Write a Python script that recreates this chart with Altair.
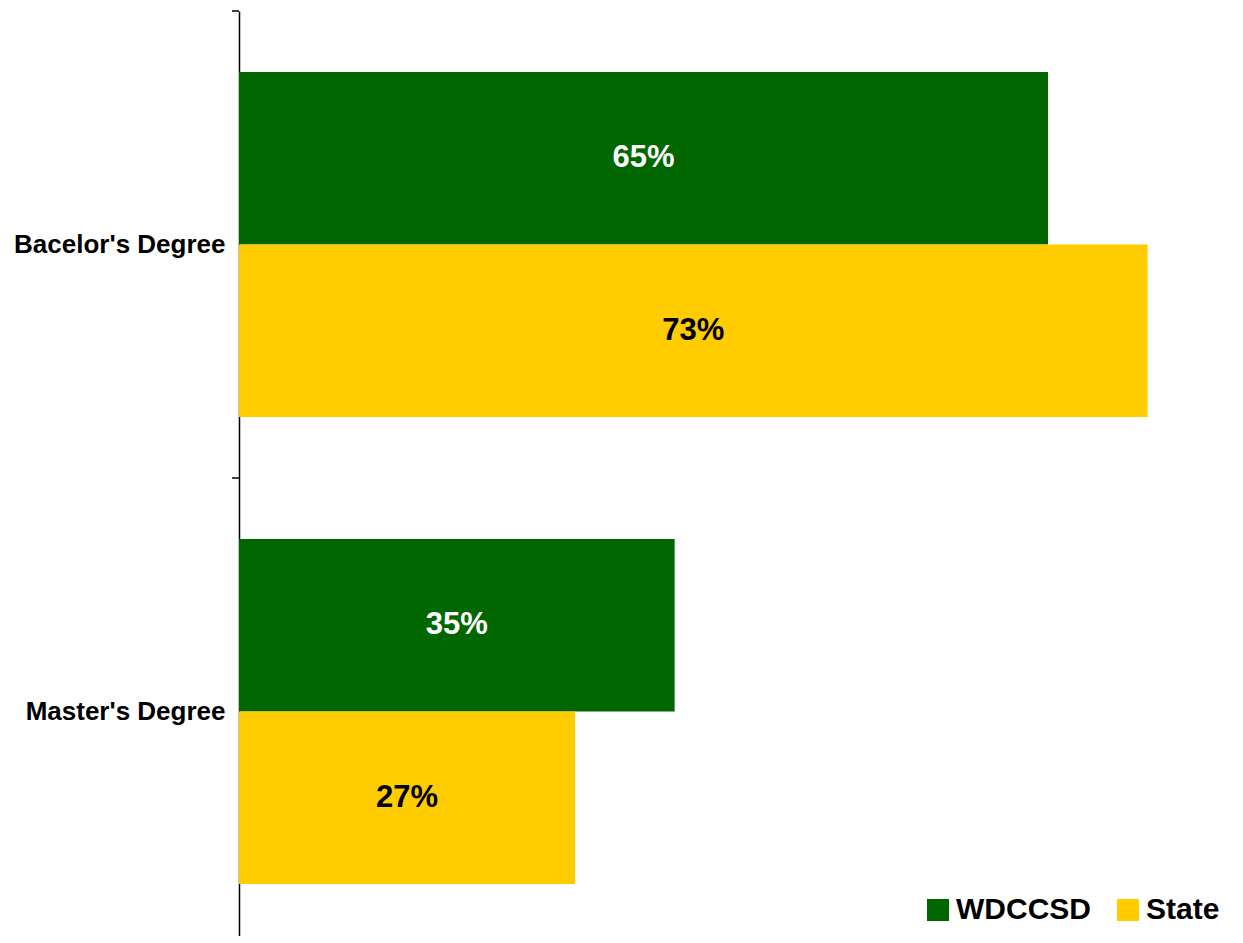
import altair as alt
import pandas as pd

categories = ["Bacelor's Degree", "Master's Degree"]
series = ["WDCCSD", "State"]
wdccsd = [65, 35]
state = [73, 27]
colors = ["#006600", "#FFCC00"]
text_colors = ["white", "black"]

rows = []
for i, c in enumerate(categories):
    rows.append({"cat": c, "series": "WDCCSD", "value": wdccsd[i], "label": f"{wdccsd[i]}%"})
    rows.append({"cat": c, "series": "State", "value": state[i], "label": f"{state[i]}%"})
df = pd.DataFrame(rows)

FONT = "Liberation Sans"
XMAX = 79.54

y_enc = alt.Y("cat:N", sort=categories, title=None,
              scale=alt.Scale(range=[0, 934], paddingInner=0, paddingOuter=0),
              axis=alt.Axis(labelFont=FONT, labelFontSize=26, labelFontWeight="bold",
                            labelColor="black", labelPadding=14, ticks=False, labelLimit=400,
                            domainColor="black", domainWidth=1.5))
yoff = alt.YOffset("series:N", sort=series,
                   scale=alt.Scale(paddingOuter=0.354, paddingInner=0))

base = alt.Chart(df)

bars = base.mark_bar().encode(
    x=alt.X("value:Q", scale=alt.Scale(domain=[0, XMAX]), axis=None),
    y=y_enc,
    yOffset=yoff,
    color=alt.Color("series:N", sort=series,
                    scale=alt.Scale(domain=series, range=colors),
                    legend=alt.Legend(title=None, orient="none", legendX=684, legendY=884,
                                      direction="horizontal", symbolType="square",
                                      symbolSize=484, symbolStrokeWidth=0, symbolOpacity=1,
                                      labelFont=FONT, labelFontSize=30, labelFontWeight="bold",
                                      labelColor="black", labelOffset=3, columnPadding=22,
                                      labelLimit=300, padding=0)),
)

texts = base.transform_calculate(mid="datum.value / 2").mark_text(
    font=FONT, fontSize=31, fontWeight="bold", align="center", baseline="middle"
).encode(
    x=alt.X("mid:Q", scale=alt.Scale(domain=[0, XMAX]), axis=None),
    y=alt.Y("cat:N", sort=categories),
    yOffset=yoff,
    text="label:N",
    color=alt.Color("series:N", sort=series,
                    scale=alt.Scale(domain=series, range=text_colors), legend=None),
)

ticks = alt.Chart(pd.DataFrame({"cat": categories})).mark_rule(color="black", strokeWidth=1.5).encode(
    y=alt.Y("cat:N", sort=categories, bandPosition=0),
    x=alt.value(-7),
    x2=alt.value(0),
)

chart = alt.layer(bars, texts, ticks).resolve_scale(color="independent").properties(
    width=990, height=925,
    autosize=alt.AutoSizeParams(type="none"),
    padding={"left": 231, "top": 3, "right": 6, "bottom": 0},
).configure_view(stroke=None)

chart.save("out.html", embed_options={"renderer": "svg", "actions": False})
